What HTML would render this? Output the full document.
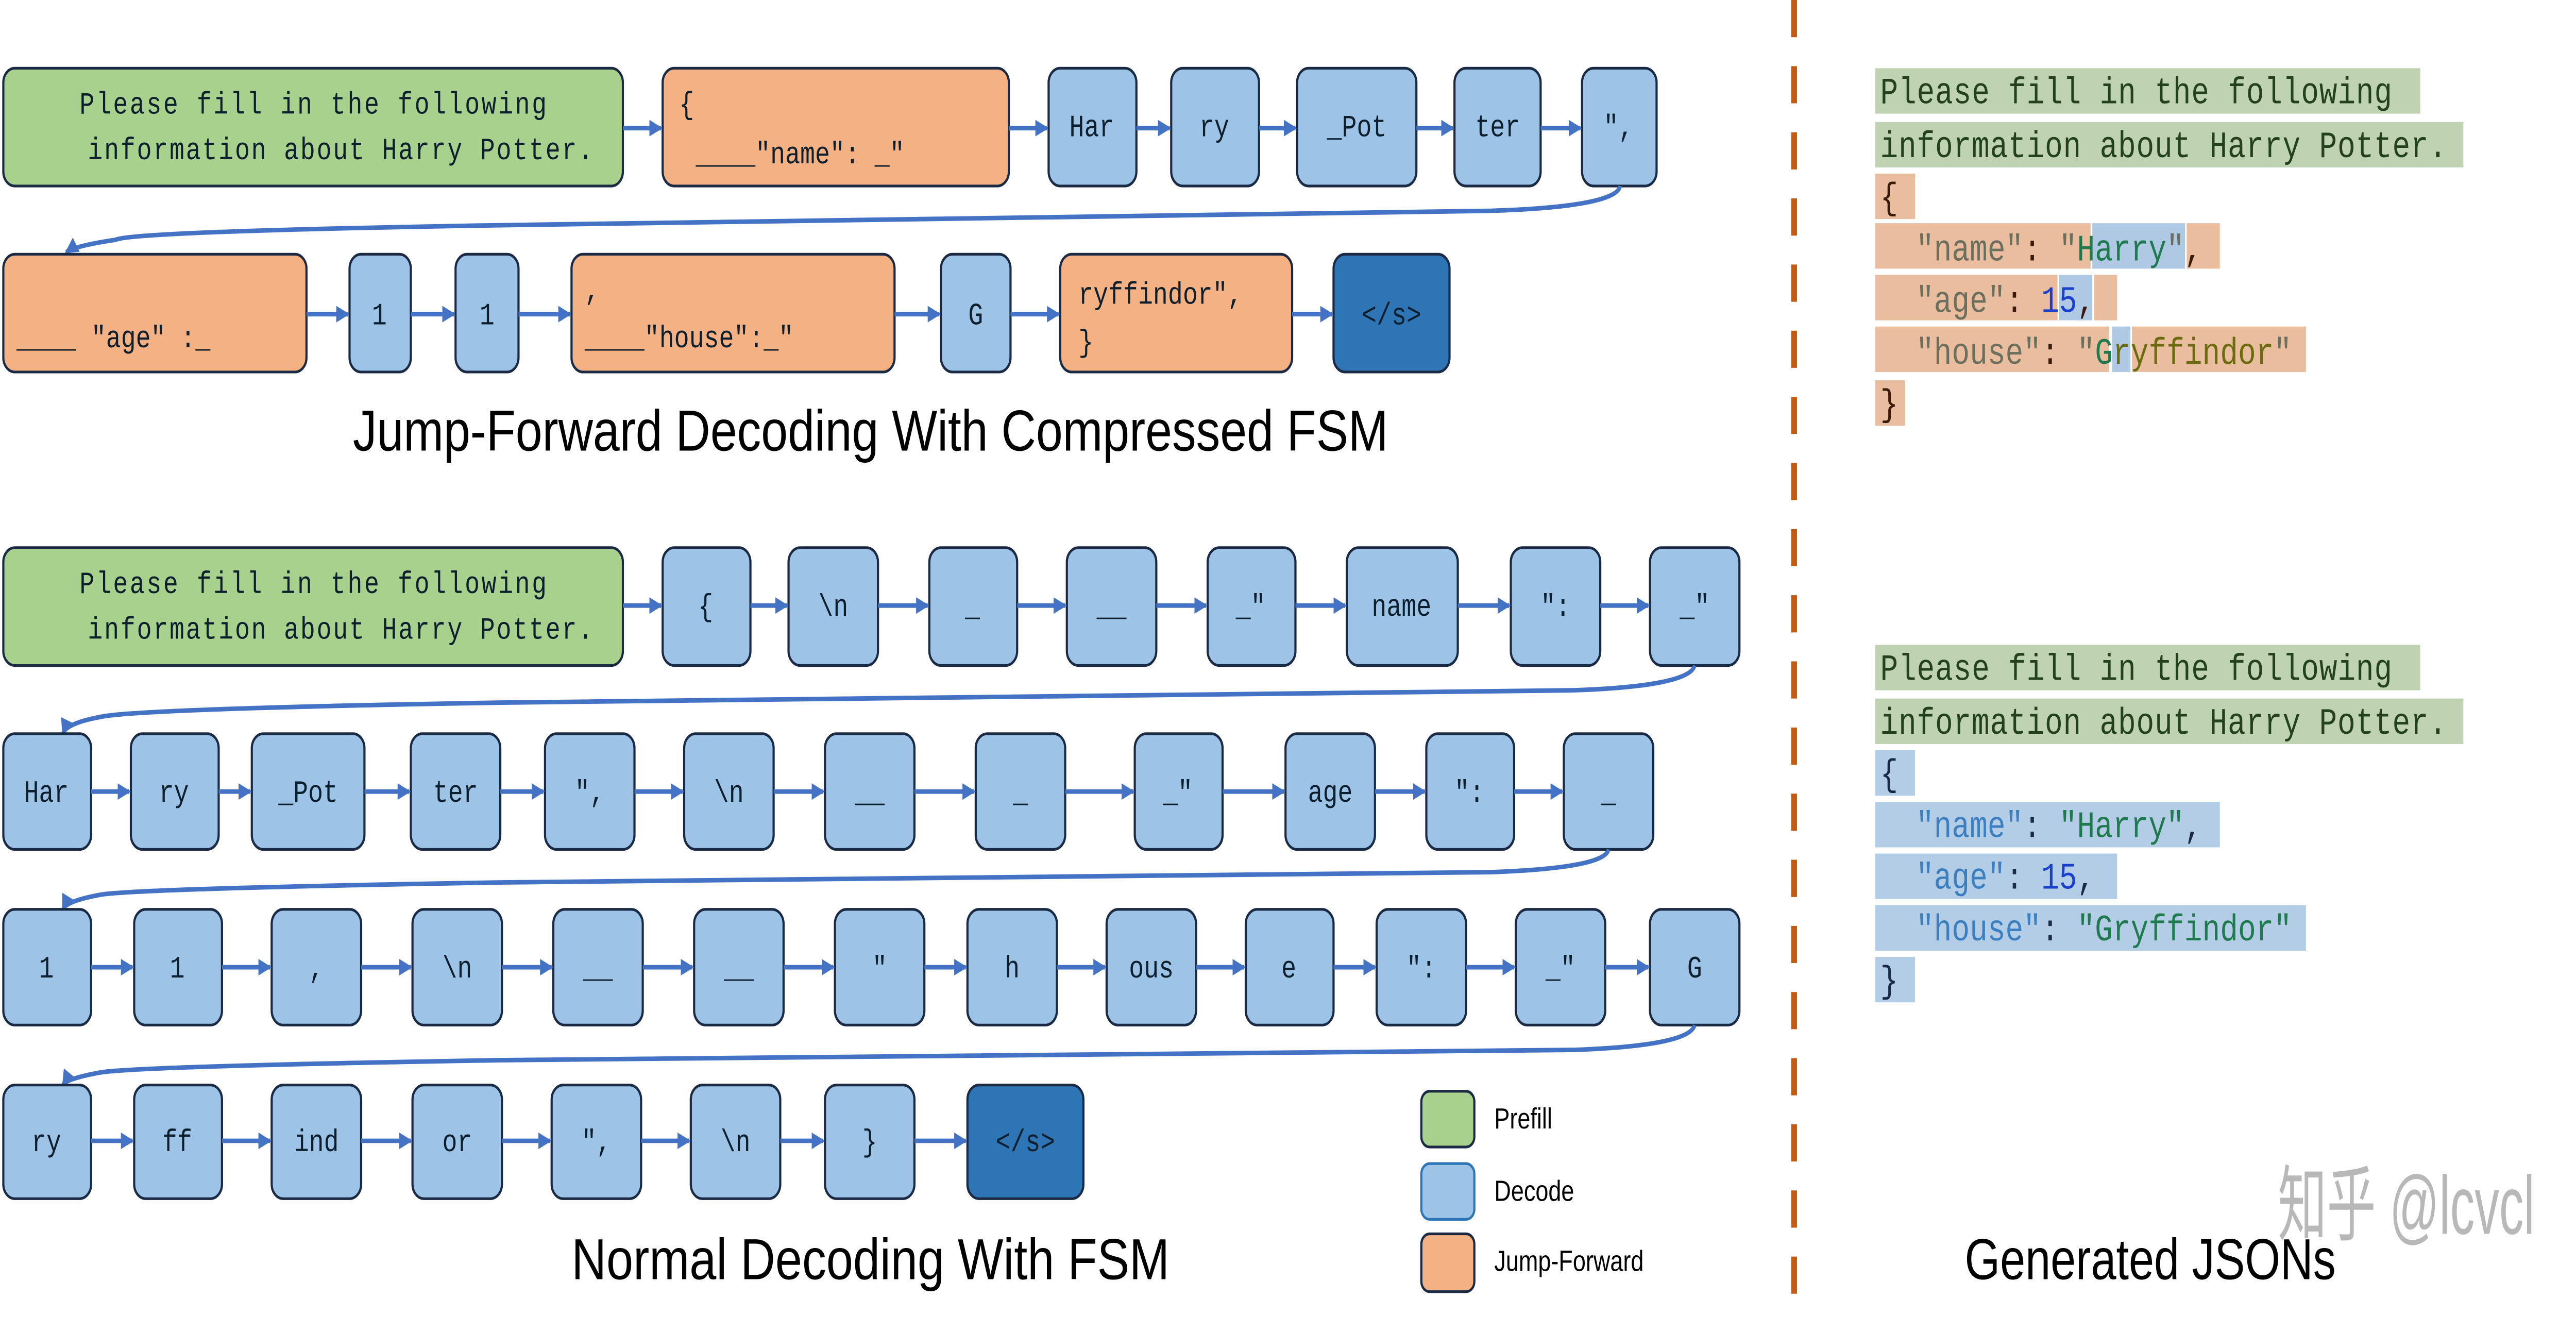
<!DOCTYPE html>
<html><head><meta charset="utf-8"><style>html,body{margin:0;padding:0;background:#fff;width:100%;height:100%;overflow:hidden}svg{display:block;width:100vw;height:100vh;position:absolute;left:0;top:0}</style></head>
<body>
<svg viewBox="0 0 1555 644.5" preserveAspectRatio="none" xmlns="http://www.w3.org/2000/svg">
<defs>
<marker id="ah" markerWidth="8" markerHeight="8" refX="7" refY="4" orient="auto" markerUnits="userSpaceOnUse">
<path d="M0,0 L8,4 L0,8 z" fill="#4472c4"/></marker>
</defs>
<style>
.g{fill:#a9d18e;stroke:#1b2a44;stroke-width:1.3}
.o{fill:#f4b183;stroke:#1b2a44;stroke-width:1.3}
.b{fill:#9dc3e6;stroke:#1b2a44;stroke-width:1.3}
.d{fill:#2e75b6;stroke:#1b2a44;stroke-width:1.3}
.t{font-family:"Liberation Mono",monospace;font-size:15px;fill:#0d1f2d;text-anchor:middle}
.tl{font-family:"Liberation Mono",monospace;font-size:15px;fill:#0d1f2d}
.ar{stroke:#4472c4;stroke-width:2.2;fill:none;marker-end:url(#ah)}
.ti{font-family:"Liberation Sans",sans-serif;font-size:28px;fill:#000}
.lg{font-family:"Liberation Sans",sans-serif;font-size:14px;fill:#000}
.j{font-family:"Liberation Mono",monospace;font-size:18px}
</style>
<!-- Row 1 -->
<rect class="g" x="2" y="33" width="374" height="57" rx="7"/>
<text class="tl" x="48" y="55" textLength="282">Please fill in the following</text>
<text class="tl" x="53" y="77" textLength="305">information about Harry Potter.</text>
<rect class="o" x="400" y="33" width="209" height="57" rx="7"/>
<text class="tl" x="410" y="55">{</text>
<text class="tl" x="420" y="79">____"name": _"</text>
<rect class="b" x="633" y="33" width="53" height="57" rx="7"/><text class="t" x="659" y="66">Har</text>
<rect class="b" x="707" y="33" width="53" height="57" rx="7"/><text class="t" x="733" y="66">ry</text>
<rect class="b" x="783" y="33" width="72" height="57" rx="7"/><text class="t" x="819" y="66">_Pot</text>
<rect class="b" x="878" y="33" width="52" height="57" rx="7"/><text class="t" x="904" y="66">ter</text>
<rect class="b" x="955" y="33" width="45" height="57" rx="7"/><text class="t" x="977" y="66">",</text>
<line class="ar" x1="376" y1="62" x2="399" y2="62"/>
<line class="ar" x1="609" y1="62" x2="632" y2="62"/>
<line class="ar" x1="686" y1="62" x2="706" y2="62"/>
<line class="ar" x1="760" y1="62" x2="782" y2="62"/>
<line class="ar" x1="855" y1="62" x2="877" y2="62"/>
<line class="ar" x1="930" y1="62" x2="954" y2="62"/>
<path class="ar" d="M978,90 Q976,100 900,102 L300,109 Q80,112 70,116 Q45,119 40,122"/>

<!-- Row 2 -->
<rect class="o" x="2" y="123" width="183" height="57" rx="7"/>
<text class="tl" x="10" y="168">____ "age" :_</text>
<rect class="b" x="211" y="123" width="37" height="57" rx="7"/><text class="t" x="229" y="157">1</text>
<rect class="b" x="275" y="123" width="38" height="57" rx="7"/><text class="t" x="294" y="157">1</text>
<rect class="o" x="345" y="123" width="195" height="57" rx="7"/>
<text class="tl" x="353" y="145">,</text>
<text class="tl" x="353" y="168">____"house":_"</text>
<rect class="b" x="568" y="123" width="42" height="57" rx="7"/><text class="t" x="589" y="157">G</text>
<rect class="o" x="640" y="123" width="140" height="57" rx="7"/>
<text class="tl" x="651" y="147">ryffindor",</text>
<text class="tl" x="651" y="170">}</text>
<rect class="d" x="805" y="123" width="70" height="57" rx="7"/><text class="t" x="840" y="157">&lt;/s&gt;</text>
<line class="ar" x1="185" y1="152" x2="210" y2="152"/>
<line class="ar" x1="248" y1="152" x2="274" y2="152"/>
<line class="ar" x1="313" y1="152" x2="344" y2="152"/>
<line class="ar" x1="540" y1="152" x2="567" y2="152"/>
<line class="ar" x1="610" y1="152" x2="639" y2="152"/>
<line class="ar" x1="780" y1="152" x2="804" y2="152"/>

<text class="ti" x="213" y="218" textLength="625" lengthAdjust="spacingAndGlyphs">Jump-Forward Decoding With Compressed FSM</text>

<!-- Row 3 -->
<rect class="g" x="2" y="265" width="374" height="57" rx="7"/>
<text class="tl" x="48" y="287" textLength="282">Please fill in the following</text>
<text class="tl" x="53" y="309" textLength="305">information about Harry Potter.</text>
<rect class="b" x="400" y="265" width="53" height="57" rx="7"/><text class="t" x="426" y="298">{</text>
<rect class="b" x="476" y="265" width="54" height="57" rx="7"/><text class="t" x="503" y="298">\n</text>
<rect class="b" x="561" y="265" width="53" height="57" rx="7"/><text class="t" x="587" y="298">_</text>
<rect class="b" x="644" y="265" width="54" height="57" rx="7"/><text class="t" x="671" y="298">__</text>
<rect class="b" x="729" y="265" width="53" height="57" rx="7"/><text class="t" x="755" y="298">_"</text>
<rect class="b" x="813" y="265" width="67" height="57" rx="7"/><text class="t" x="846" y="298">name</text>
<rect class="b" x="912" y="265" width="54" height="57" rx="7"/><text class="t" x="939" y="298">":</text>
<rect class="b" x="996" y="265" width="54" height="57" rx="7"/><text class="t" x="1023" y="298">_"</text>
<line class="ar" x1="376" y1="293" x2="399" y2="293"/>
<line class="ar" x1="453" y1="293" x2="475" y2="293"/>
<line class="ar" x1="530" y1="293" x2="560" y2="293"/>
<line class="ar" x1="614" y1="293" x2="643" y2="293"/>
<line class="ar" x1="698" y1="293" x2="728" y2="293"/>
<line class="ar" x1="782" y1="293" x2="812" y2="293"/>
<line class="ar" x1="880" y1="293" x2="911" y2="293"/>
<line class="ar" x1="966" y1="293" x2="995" y2="293"/>
<path class="ar" d="M1023,322 Q1020,332 950,334 L300,340 Q80,343 60,347 Q40,350 38,355"/>

<!-- Row 4 -->
<rect class="b" x="2" y="355" width="53" height="56" rx="7"/><text class="t" x="28" y="388">Har</text>
<rect class="b" x="79" y="355" width="53" height="56" rx="7"/><text class="t" x="105" y="388">ry</text>
<rect class="b" x="152" y="355" width="68" height="56" rx="7"/><text class="t" x="186" y="388">_Pot</text>
<rect class="b" x="248" y="355" width="54" height="56" rx="7"/><text class="t" x="275" y="388">ter</text>
<rect class="b" x="329" y="355" width="54" height="56" rx="7"/><text class="t" x="356" y="388">",</text>
<rect class="b" x="413" y="355" width="54" height="56" rx="7"/><text class="t" x="440" y="388">\n</text>
<rect class="b" x="498" y="355" width="54" height="56" rx="7"/><text class="t" x="525" y="388">__</text>
<rect class="b" x="589" y="355" width="54" height="56" rx="7"/><text class="t" x="616" y="388">_</text>
<rect class="b" x="685" y="355" width="53" height="56" rx="7"/><text class="t" x="711" y="388">_"</text>
<rect class="b" x="776" y="355" width="54" height="56" rx="7"/><text class="t" x="803" y="388">age</text>
<rect class="b" x="861" y="355" width="53" height="56" rx="7"/><text class="t" x="887" y="388">":</text>
<rect class="b" x="944" y="355" width="54" height="56" rx="7"/><text class="t" x="971" y="388">_</text>
<line class="ar" x1="55" y1="383" x2="78" y2="383"/>
<line class="ar" x1="132" y1="383" x2="151" y2="383"/>
<line class="ar" x1="220" y1="383" x2="247" y2="383"/>
<line class="ar" x1="302" y1="383" x2="328" y2="383"/>
<line class="ar" x1="383" y1="383" x2="412" y2="383"/>
<line class="ar" x1="467" y1="383" x2="497" y2="383"/>
<line class="ar" x1="552" y1="383" x2="588" y2="383"/>
<line class="ar" x1="643" y1="383" x2="684" y2="383"/>
<line class="ar" x1="738" y1="383" x2="775" y2="383"/>
<line class="ar" x1="830" y1="383" x2="860" y2="383"/>
<line class="ar" x1="914" y1="383" x2="943" y2="383"/>
<path class="ar" d="M971,411 Q969,420 900,422 L300,427 Q80,430 60,433 Q40,436 38,440"/>

<!-- Row 5 -->
<rect class="b" x="2" y="440" width="53" height="56" rx="7"/><text class="t" x="28" y="473">1</text>
<rect class="b" x="81" y="440" width="53" height="56" rx="7"/><text class="t" x="107" y="473">1</text>
<rect class="b" x="164" y="440" width="54" height="56" rx="7"/><text class="t" x="191" y="473">,</text>
<rect class="b" x="249" y="440" width="54" height="56" rx="7"/><text class="t" x="276" y="473">\n</text>
<rect class="b" x="334" y="440" width="54" height="56" rx="7"/><text class="t" x="361" y="473">__</text>
<rect class="b" x="419" y="440" width="54" height="56" rx="7"/><text class="t" x="446" y="473">__</text>
<rect class="b" x="504" y="440" width="54" height="56" rx="7"/><text class="t" x="531" y="473">"</text>
<rect class="b" x="584" y="440" width="54" height="56" rx="7"/><text class="t" x="611" y="473">h</text>
<rect class="b" x="668" y="440" width="54" height="56" rx="7"/><text class="t" x="695" y="473">ous</text>
<rect class="b" x="752" y="440" width="53" height="56" rx="7"/><text class="t" x="778" y="473">e</text>
<rect class="b" x="831" y="440" width="54" height="56" rx="7"/><text class="t" x="858" y="473">":</text>
<rect class="b" x="915" y="440" width="54" height="56" rx="7"/><text class="t" x="942" y="473">_"</text>
<rect class="b" x="996" y="440" width="54" height="56" rx="7"/><text class="t" x="1023" y="473">G</text>
<line class="ar" x1="55" y1="468" x2="80" y2="468"/>
<line class="ar" x1="134" y1="468" x2="163" y2="468"/>
<line class="ar" x1="218" y1="468" x2="248" y2="468"/>
<line class="ar" x1="303" y1="468" x2="333" y2="468"/>
<line class="ar" x1="388" y1="468" x2="418" y2="468"/>
<line class="ar" x1="473" y1="468" x2="503" y2="468"/>
<line class="ar" x1="558" y1="468" x2="583" y2="468"/>
<line class="ar" x1="638" y1="468" x2="667" y2="468"/>
<line class="ar" x1="722" y1="468" x2="751" y2="468"/>
<line class="ar" x1="805" y1="468" x2="830" y2="468"/>
<line class="ar" x1="885" y1="468" x2="914" y2="468"/>
<line class="ar" x1="969" y1="468" x2="995" y2="468"/>
<path class="ar" d="M1023,496 Q1020,506 950,508 L300,513 Q80,516 60,519 Q40,522 38,525"/>

<!-- Row 6 -->
<rect class="b" x="2" y="525" width="53" height="55" rx="7"/><text class="t" x="28" y="557">ry</text>
<rect class="b" x="81" y="525" width="53" height="55" rx="7"/><text class="t" x="107" y="557">ff</text>
<rect class="b" x="164" y="525" width="54" height="55" rx="7"/><text class="t" x="191" y="557">ind</text>
<rect class="b" x="249" y="525" width="54" height="55" rx="7"/><text class="t" x="276" y="557">or</text>
<rect class="b" x="333" y="525" width="54" height="55" rx="7"/><text class="t" x="360" y="557">",</text>
<rect class="b" x="417" y="525" width="54" height="55" rx="7"/><text class="t" x="444" y="557">\n</text>
<rect class="b" x="498" y="525" width="54" height="55" rx="7"/><text class="t" x="525" y="557">}</text>
<rect class="d" x="584" y="525" width="70" height="55" rx="7"/><text class="t" x="619" y="557">&lt;/s&gt;</text>
<line class="ar" x1="55" y1="552" x2="80" y2="552"/>
<line class="ar" x1="134" y1="552" x2="163" y2="552"/>
<line class="ar" x1="218" y1="552" x2="248" y2="552"/>
<line class="ar" x1="303" y1="552" x2="332" y2="552"/>
<line class="ar" x1="387" y1="552" x2="416" y2="552"/>
<line class="ar" x1="471" y1="552" x2="497" y2="552"/>
<line class="ar" x1="552" y1="552" x2="583" y2="552"/>

<text class="ti" x="345" y="619" textLength="361" lengthAdjust="spacingAndGlyphs">Normal Decoding With FSM</text>

<!-- Legend -->
<rect class="g" x="858" y="528" width="32" height="27" rx="5"/><text class="lg" x="902" y="546">Prefill</text>
<rect x="858" y="563" width="32" height="27" rx="5" fill="#9dc3e6" stroke="#2e75b6" stroke-width="1.3"/><text class="lg" x="902" y="581">Decode</text>
<rect class="o" x="858" y="597" width="32" height="28" rx="5"/><text class="lg" x="902" y="615">Jump-Forward</text>

<!-- Dashed separator -->
<line x1="1083" y1="0" x2="1083" y2="628" stroke="#c55a11" stroke-width="3.5" stroke-dasharray="18,14"/>

<!-- JSON 1 -->
<rect x="1132" y="33" width="329" height="22" fill="#bfd3b2"/>
<rect x="1132" y="59" width="355" height="22" fill="#bfd3b2"/>
<rect x="1132" y="84" width="24" height="22" fill="#eabd9f"/>
<rect x="1132" y="108" width="130" height="22" fill="#eabd9f"/>
<rect x="1263" y="108" width="56" height="22" fill="#afc9e4"/>
<rect x="1320" y="108" width="20" height="22" fill="#eabd9f"/>
<rect x="1132" y="133" width="110" height="22" fill="#eabd9f"/>
<rect x="1243" y="133" width="20" height="22" fill="#afc9e4"/>
<rect x="1264" y="133" width="14" height="22" fill="#eabd9f"/>
<rect x="1132" y="158" width="141" height="22" fill="#eabd9f"/>
<rect x="1275" y="158" width="11" height="22" fill="#afc9e4"/>
<rect x="1287" y="158" width="105" height="22" fill="#eabd9f"/>
<rect x="1132" y="184" width="18" height="22" fill="#eabd9f"/>
<text class="j" x="1135" y="50" fill="#23421c" textLength="309">Please fill in the following</text>
<text class="j" x="1135" y="76" fill="#23421c" textLength="342">information about Harry Potter.</text>
<text class="j" x="1135" y="101" fill="#3a1a0a">{</text>
<text class="j" x="1135" y="126" xml:space="preserve"><tspan fill="#6b705e">  "name"</tspan><tspan fill="#3a1a0a">: </tspan><tspan fill="#6b705e">"</tspan><tspan fill="#1f7a4f">Harry</tspan><tspan fill="#6b705e">"</tspan><tspan fill="#3a1a0a">,</tspan></text>
<text class="j" x="1135" y="151" xml:space="preserve"><tspan fill="#6b705e">  "age"</tspan><tspan fill="#3a1a0a">: </tspan><tspan fill="#1a3fcc">15</tspan><tspan fill="#3a1a0a">,</tspan></text>
<text class="j" x="1135" y="176" xml:space="preserve"><tspan fill="#6b705e">  "house"</tspan><tspan fill="#3a1a0a">: </tspan><tspan fill="#6b705e">"</tspan><tspan fill="#1f7a4f">G</tspan><tspan fill="#6b6b10">ryffindor</tspan><tspan fill="#6b705e">"</tspan></text>
<text class="j" x="1135" y="201" fill="#3a1a0a">}</text>

<!-- JSON 2 -->
<rect x="1132" y="312" width="329" height="22" fill="#bfd3b2"/>
<rect x="1132" y="338" width="355" height="22" fill="#bfd3b2"/>
<rect x="1132" y="363" width="24" height="22" fill="#b4cde6"/>
<rect x="1132" y="388" width="208" height="22" fill="#b4cde6"/>
<rect x="1132" y="413" width="146" height="22" fill="#b4cde6"/>
<rect x="1132" y="438" width="260" height="22" fill="#b4cde6"/>
<rect x="1132" y="463" width="24" height="22" fill="#b4cde6"/>
<text class="j" x="1135" y="329" fill="#23421c" textLength="309">Please fill in the following</text>
<text class="j" x="1135" y="355" fill="#23421c" textLength="342">information about Harry Potter.</text>
<text class="j" x="1135" y="380" fill="#1b2a44">{</text>
<text class="j" x="1135" y="405" xml:space="preserve"><tspan fill="#3c7fc0">  "name"</tspan><tspan fill="#1b2a44">: </tspan><tspan fill="#1f7a4f">"Harry"</tspan><tspan fill="#1b2a44">,</tspan></text>
<text class="j" x="1135" y="430" xml:space="preserve"><tspan fill="#3c7fc0">  "age"</tspan><tspan fill="#1b2a44">: </tspan><tspan fill="#1a3fcc">15</tspan><tspan fill="#1b2a44">,</tspan></text>
<text class="j" x="1135" y="455" xml:space="preserve"><tspan fill="#3c7fc0">  "house"</tspan><tspan fill="#1b2a44">: </tspan><tspan fill="#1f7a4f">"Gryffindor"</tspan></text>
<text class="j" x="1135" y="480" fill="#1b2a44">}</text>

<text class="ti" x="1186" y="619" textLength="224" lengthAdjust="spacingAndGlyphs">Generated JSONs</text>
<text x="1375" y="597" font-family="'Liberation Sans','Noto Sans CJK SC',sans-serif" font-size="40" fill="#b8b8b8" textLength="155" lengthAdjust="spacingAndGlyphs">知乎 @lcvcl</text>
</svg>
</body></html>
